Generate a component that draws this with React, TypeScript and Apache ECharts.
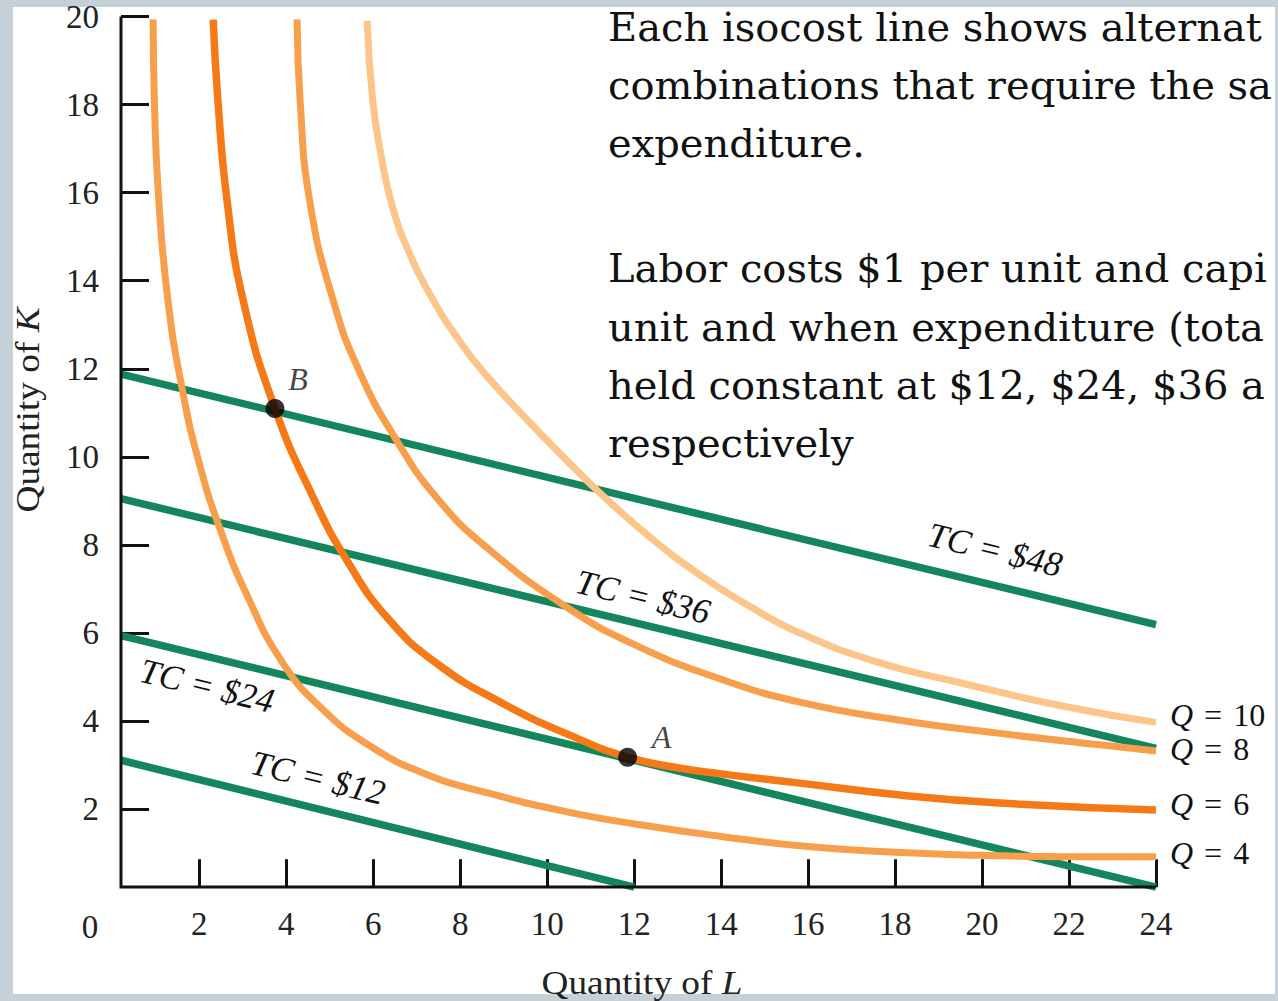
import React, { useEffect, useRef } from "react";
import * as echarts from "echarts";

// ---- data ----
const L_TICKS = [2, 4, 6, 8, 10, 12, 14, 16, 18, 20, 22, 24];
const K_TICKS = [2, 4, 6, 8, 10, 12, 14, 16, 18, 20];

// axis origin as drawn (the figure's axes sit slightly inside 0,0)
const AXIS_L0 = 0.2;
const AXIS_K0 = 0.23;

// isocost lines (endpoints)
const TC_NAMES = ["TC = $12", "TC = $24", "TC = $36", "TC = $48"];
const TC12 = [[0.2, 3.11], [12.0, 0.23]];
const TC24 = [[0.2, 5.94], [24, 0.23]];
const TC36 = [[0.2, 9.05], [24, 3.38]];
const TC48 = [[0.2, 11.88], [24, 6.19]];

// isoquants
const Q_NAMES = ["4", "6", "8", "10"];
const Q4 = [[0.94, 19.93], [0.97, 18.0], [1.07, 15.81], [1.28, 13.55], [1.6, 11.58], [2.0, 9.85], [2.5, 8.3], [3.1, 6.85], [3.9, 5.35], [4.8, 4.3], [5.9, 3.45], [7.2, 2.8], [8.7, 2.35], [10.4, 1.95], [12.1, 1.65], [14, 1.38], [16, 1.15], [18, 1.02], [20, 0.95], [22, 0.92], [24, 0.92]];
const Q6 = [[2.32, 19.93], [2.43, 18.07], [2.64, 15.81], [3.01, 13.55], [3.74, 11.1], [4.62, 9.08], [5.4, 7.64], [6.32, 6.35], [7.46, 5.31], [8.98, 4.4], [10.52, 3.68], [11.85, 3.18], [13.0, 2.94], [14, 2.8], [15.81, 2.59], [18.11, 2.32], [20.41, 2.14], [24, 1.98]];
const Q8 = [[4.25, 19.93], [4.32, 18.07], [4.54, 15.81], [5.08, 13.55], [5.7, 11.9], [6.54, 10.37], [7.46, 9.07], [8.6, 7.95], [10.46, 6.58], [12.13, 5.68], [14, 4.95], [15.81, 4.43], [18.11, 4.02], [20.41, 3.72], [22.71, 3.46], [24, 3.32]];
const Q10 = [[5.86, 19.9], [5.99, 18.07], [6.2, 16.75], [6.45, 15.65], [6.8, 14.7], [7.3, 13.7], [7.9, 12.75], [8.6, 11.85], [9.6, 10.78], [10.4, 9.97], [11.17, 9.22], [12.3, 8.23], [13.51, 7.32], [14.6, 6.64], [15.81, 6.0], [17.6, 5.34], [19.5, 4.87], [21.9, 4.33], [24, 3.97]];

const POINT_A = [11.85, 3.18];
const POINT_B = [3.74, 11.1];

const TITLE_LINES = [
  "Each isocost line shows alternat",
  "combinations that require the sa",
  "expenditure.",
  "Labor costs $1 per unit and capi",
  "unit and when expenditure (tota",
  "held constant at $12, $24, $36 a",
  "respectively",
];

// ---- styles ----
const FONT = "'Liberation Serif', 'Times New Roman', serif";
const TITLE_FONT = "'DejaVu Serif', Georgia, serif";
const GREEN = "#13865c";
const ORANGE_MID = "#f89f4e";
const ORANGE_DARK = "#f57a17";
const ORANGE_PALE = "#fcc68a";
const INK = "#111111";

export default function App() {
  const ref = useRef<HTMLDivElement>(null);

  useEffect(() => {
    if (!ref.current) return;
    const chart = echarts.init(ref.current, undefined, { renderer: "svg" });

    const tcSeries = [TC12, TC24, TC36, TC48].map((d, i) => ({
      type: "line",
      name: TC_NAMES[i],
      data: d,
      symbol: "none",
      silent: true,
      z: 2,
      lineStyle: { color: GREEN, width: 7.5 },
    }));

    const qData = [Q4, Q6, Q8, Q10];
    const qColors = [ORANGE_MID, ORANGE_DARK, ORANGE_MID, ORANGE_PALE];
    const qOffsets = [[0, -4], [0, -6], [0, -2], [0, -7]];
    const qSeries = qData.map((d, i) => ({
      type: "line",
      name: "Q = " + Q_NAMES[i],
      data: d,
      symbol: "none",
      smooth: 0.5,
      silent: true,
      z: 3,
      lineStyle: { color: qColors[i], width: i === 1 ? 7.5 : 7 },
      endLabel: {
        show: true,
        distance: 14,
        offset: qOffsets[i],
        formatter: () => "{i|Q}{e|=}" + Q_NAMES[i],
        color: INK,
        fontFamily: FONT,
        fontSize: 32,
        rich: {
          i: { fontStyle: "italic", fontFamily: FONT, fontSize: 32, color: INK },
          e: { fontFamily: FONT, fontSize: 32, color: INK, padding: [0, 11, 0, 11] },
        },
      },
    }));

    const option = {
      animation: false,
      grid: { left: 112.3, right: 122, top: 15, bottom: 103.8, containLabel: false },
      xAxis: {
        type: "value",
        min: 0,
        max: 24,
        interval: 2,
        offset: -10,
        axisLine: { show: false },
        splitLine: { show: false },
        axisTick: {
          show: true,
          inside: true,
          length: 28,
          customValues: L_TICKS,
          lineStyle: { color: INK, width: 3 },
        },
        axisLabel: {
          customValues: L_TICKS,
          margin: 20,
          fontFamily: FONT,
          fontSize: 33,
          color: "#222",
        },
      },
      yAxis: {
        type: "value",
        min: 0,
        max: 20,
        interval: 2,
        offset: -8.7,
        axisLine: { show: false },
        splitLine: { show: false },
        axisTick: {
          show: true,
          inside: true,
          length: 28,
          customValues: K_TICKS,
          lineStyle: { color: INK, width: 3 },
        },
        axisLabel: {
          customValues: K_TICKS,
          margin: 22,
          fontFamily: FONT,
          fontSize: 33,
          color: "#222",
        },
      },
      graphic: [
        {
          type: "rect",
          z: -10,
          silent: true,
          shape: { x: 13, y: 7, width: 1262, height: 987 },
          style: { fill: "#ffffff" },
        },
        {
          type: "text",
          x: 90,
          y: 927,
          style: {
            text: "0",
            font: `33px ${FONT}`,
            fill: "#222",
            textAlign: "center",
            textVerticalAlign: "middle",
          },
        },
        {
          type: "text",
          x: 642,
          y: 983,
          scaleX: 1.13,
          style: {
            text: "Quantity of {i|L}",
            font: `33px ${FONT}`,
            fill: "#222",
            textAlign: "center",
            textVerticalAlign: "middle",
            rich: { i: { fontStyle: "italic", fontFamily: FONT, fontSize: 33, fill: "#222" } },
          },
        },
        {
          type: "text",
          x: 28,
          y: 410,
          rotation: Math.PI / 2,
          scaleX: 1.13,
          style: {
            text: "Quantity of {i|K}",
            font: `33px ${FONT}`,
            fill: "#222",
            textAlign: "center",
            textVerticalAlign: "middle",
            rich: { i: { fontStyle: "italic", fontFamily: FONT, fontSize: 33, fill: "#222" } },
          },
        },
        ...[
          [318, 778],
          [207, 686],
          [643, 597],
          [995, 550],
        ].map((p, i) => ({
          type: "text",
          x: p[0],
          y: p[1],
          rotation: -0.235,
          style: {
            text: TC_NAMES[i],
            font: `italic 35px ${FONT}`,
            fill: INK,
            textAlign: "center",
            textVerticalAlign: "middle",
          },
        })),
        ...TITLE_LINES.map((t, i) => ({
          type: "text",
          x: 608,
          y: [27, 85, 143, 268, 327, 385, 443][i],
          style: {
            text: t,
            font: `40px ${TITLE_FONT}`,
            fill: "#111",
            textAlign: "left",
            textVerticalAlign: "middle",
          },
        })),
      ],
      series: [
        ...tcSeries,
        ...qSeries,
        {
          type: "line",
          name: "axes",
          data: [[AXIS_L0, 20], [AXIS_L0, AXIS_K0], [24, AXIS_K0]],
          symbol: "none",
          silent: true,
          z: 4,
          lineStyle: { color: INK, width: 3, join: "miter" },
        },
        {
          type: "scatter",
          name: "points",
          z: 5,
          symbolSize: 19,
          itemStyle: { color: "#000" },
          data: [
            { name: "A", value: POINT_A, label: { offset: [34, -20] } },
            { name: "B", value: POINT_B, label: { offset: [23, -29] } },
          ],
          label: {
            show: true,
            position: "inside",
            formatter: "{b}",
            fontFamily: FONT,
            fontStyle: "italic",
            fontSize: 32,
            color: INK,
          },
        },
      ],
    };

    chart.setOption(option as any);
    return () => chart.dispose();
  }, []);

  return (
    <div
      ref={ref}
      style={{
        position: "absolute",
        left: 0,
        top: 0,
        width: 1278,
        height: 1001,
        background: "#c6d1d7",
        overflow: "hidden",
      }}
    />
  );
}
